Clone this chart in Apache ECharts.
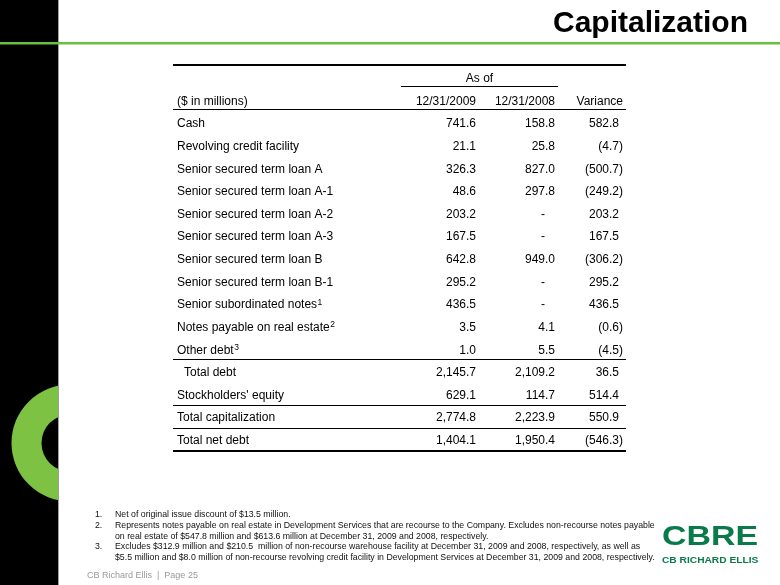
<!DOCTYPE html>
<html>
<head>
<meta charset="utf-8">
<script src="https://cdn.jsdelivr.net/npm/echarts@6/dist/echarts.min.js"></script>
<style>html,body{margin:0;padding:0;background:#fff}#c{width:780px;height:585px}</style>
</head>
<body>
<div id="c"></div>
<script>
// ---- Data ----
const rowLabels = ["Cash","Revolving credit facility","Senior secured term loan A","Senior secured term loan A-1","Senior secured term loan A-2","Senior secured term loan A-3","Senior secured term loan B","Senior secured term loan B-1","Senior subordinated notes","Notes payable on real estate","Other debt","Total debt","Stockholders' equity","Total capitalization","Total net debt"];
const rowNotes = [null,null,null,null,null,null,null,null,"1","2","3",null,null,null,null];
const indentedRows = ["Total debt"];
const values2009 = [741.6,21.1,326.3,48.6,203.2,167.5,642.8,295.2,436.5,3.5,1.0,2145.7,629.1,2774.8,1404.1];
const values2008 = [158.8,25.8,827.0,297.8,null,null,949.0,null,null,4.1,5.5,2109.2,114.7,2223.9,1950.4];
const variance   = [582.8,-4.7,-500.7,-249.2,203.2,167.5,-306.2,295.2,436.5,-0.6,-4.5,36.5,514.4,550.9,-546.3];
const groupHeader = "As of";
const unitHeader = "($ in millions)";
const columnHeaders = ["12/31/2009","12/31/2008","Variance"];
const titleText = "Capitalization";
const footnotes = [
  ["1.", "Net of original issue discount of $13.5 million."],
  ["2.", "Represents notes payable on real estate in Development Services that are recourse to the Company. Excludes non-recourse notes payable"],
  ["",   "on real estate of $547.8 million and $613.6 million at December 31, 2009 and 2008, respectively."],
  ["3.", "Excludes $312.9 million and $210.5  million of non-recourse warehouse facility at December 31, 2009 and 2008, respectively, as well as"],
  ["",   "$5.5 million and $8.0 million of non-recourse revolving credit facility in Development Services at December 31, 2009 and 2008, respectively."]
];
const footerText = "CB Richard Ellis  |  Page 25";

// ---- Layout / style ----
const FONT = '"Liberation Sans", Arial, Helvetica, sans-serif';
const rowKeys = ["asof","header"].concat(rowLabels);
const colRight = [303, 382, 446]; // right edge of positive numbers, relative to grid left
const rules = [
  {row:0, dy:-14, w:2, x0:0, x1:453},
  {row:0, dy:8, w:1, x0:228, x1:385},
  {row:1, dy:8, w:1, x0:0, x1:453},
  {row:12, dy:9.3, w:1, x0:0, x1:453},
  {row:14, dy:9.7, w:1, x0:0, x1:453},
  {row:15, dy:10, w:1, x0:0, x1:453},
  {row:16, dy:10.3, w:2, x0:0, x1:453}
];

const measureCtx = document.createElement('canvas').getContext('2d');
function textWidth(s, size){
  measureCtx.font = size + 'px ' + FONT;
  return measureCtx.measureText(s).width;
}
function fmt(v){
  if (v == null) return '-';
  const s = Math.abs(v).toLocaleString('en-US',{minimumFractionDigits:1,maximumFractionDigits:1});
  return v < 0 ? '(' + s + ')' : s;
}
function txt(text, x, y, align, extra){
  const st = Object.assign({text:text, fill:'#000', fontSize:12, fontFamily:FONT,
    align:align, textAlign:align, verticalAlign:'middle', textVerticalAlign:'middle'}, extra||{});
  return {type:'text', x:x, y:y, style:st, silent:true};
}

function renderTable(params, api){
  const r = api.value(1);
  const y = api.coord([0, r])[1];
  const L = params.coordSys.x;
  const ch = [];
  if (r === 0) {
    ch.push(txt(groupHeader, L + 306.5, y, 'center'));
  } else if (r === 1) {
    ch.push(txt(unitHeader, L + 4, y, 'left'));
    ch.push(txt(columnHeaders[0], L + colRight[0], y, 'right'));
    ch.push(txt(columnHeaders[1], L + colRight[1], y, 'right'));
    ch.push(txt(columnHeaders[2], L + colRight[2] + 4, y, 'right'));
  } else {
    const i = r - 2;
    const lx = L + (indentedRows.indexOf(rowLabels[i]) >= 0 ? 11 : 4);
    ch.push(txt(rowLabels[i], lx, y, 'left'));
    if (rowNotes[i]) {
      ch.push(txt(rowNotes[i], lx + textWidth(rowLabels[i], 12) + 0.5, y - 2.5, 'left', {fontSize:8.5}));
    }
    [values2009[i], values2008[i], variance[i]].forEach(function(v, c){
      let x = L + colRight[c];
      if (v == null) x -= 10; else if (v < 0) x += 4;
      ch.push(txt(fmt(v), x, y, 'right'));
    });
  }
  return {type:'group', children:ch};
}

function renderRule(params, api){
  const rule = rules[params.dataIndex];
  const y = api.coord([0, api.value(1)])[1] + rule.dy;
  const L = params.coordSys.x;
  return {type:'rect', silent:true,
    shape:{x:L + rule.x0, y:Math.round(y - rule.w/2), width:rule.x1 - rule.x0, height:rule.w},
    style:{fill:'#000'}};
}

const graphics = [
  {type:'rect', shape:{x:0,y:0,width:58,height:585}, style:{fill:'#000'}},
  {type:'ring', shape:{cx:70,cy:443,r:58.5,r0:28.5}, style:{fill:'#7dc242'}},
  {type:'rect', shape:{x:58,y:380,width:80,height:126}, style:{fill:'#fff'}},
  {type:'rect', shape:{x:58,y:0,width:1,height:585}, style:{fill:'#a0a0a0'}},
  {type:'rect', shape:{x:0,y:42,width:780,height:2.5}, style:{fill:'#66c43c'}},
  {type:'text', x:748, y:23.5, style:{text:titleText, fill:'#000', fontSize:30, fontWeight:'bold', fontFamily:FONT,
     align:'right', textAlign:'right', verticalAlign:'middle', textVerticalAlign:'middle'}},
  {type:'text', x:87, y:576, style:{text:footerText, fill:'#999', fontSize:9, fontFamily:'"Liberation Sans Narrow", "Arial Narrow", ' + FONT,
     align:'left', textAlign:'left', verticalAlign:'middle', textVerticalAlign:'middle'}},
  {type:'text', x:662, y:537, scaleX:1.21, style:{text:'CBRE', fill:'#0a7a4b', fontSize:28, fontWeight:'bold', fontFamily:FONT,
     align:'left', textAlign:'left', verticalAlign:'middle', textVerticalAlign:'middle'}},
  {type:'text', x:662, y:560.5, scaleX:1.2, style:{text:'CB RICHARD ELLIS', fill:'#0a7a4b', fontSize:8.5, fontWeight:'bold', fontFamily:FONT,
     align:'left', textAlign:'left', verticalAlign:'middle', textVerticalAlign:'middle'}}
];
footnotes.forEach(function(f, k){
  const y = 515 + k * 10.6;
  if (f[0]) graphics.push({type:'text', x:95, y:y, style:{text:f[0], fill:'#111', fontSize:8.75, fontFamily:FONT,
    align:'left', textAlign:'left', verticalAlign:'middle', textVerticalAlign:'middle'}});
  graphics.push({type:'text', x:115, y:y, style:{text:f[1], fill:'#111', fontSize:8.75, fontFamily:FONT,
    align:'left', textAlign:'left', verticalAlign:'middle', textVerticalAlign:'middle'}});
});

const chart = echarts.init(document.getElementById('c'), null, {renderer:'canvas'});
chart.setOption({
  backgroundColor:'#fff',
  animation:false,
  grid:{left:173, top:67.5, width:453, height:384.5},
  xAxis:{type:'value', min:0, max:1, show:false},
  yAxis:{type:'category', data:rowKeys, inverse:true, show:false},
  graphic:{elements:graphics},
  series:[
    {type:'custom', name:'table', renderItem:renderTable, data:rowKeys.map(function(k,i){return [0,i];}), silent:true},
    {type:'custom', name:'rules', renderItem:renderRule, data:rules.map(function(r){return [0,r.row];}), silent:true}
  ]
});
</script>
</body>
</html>
